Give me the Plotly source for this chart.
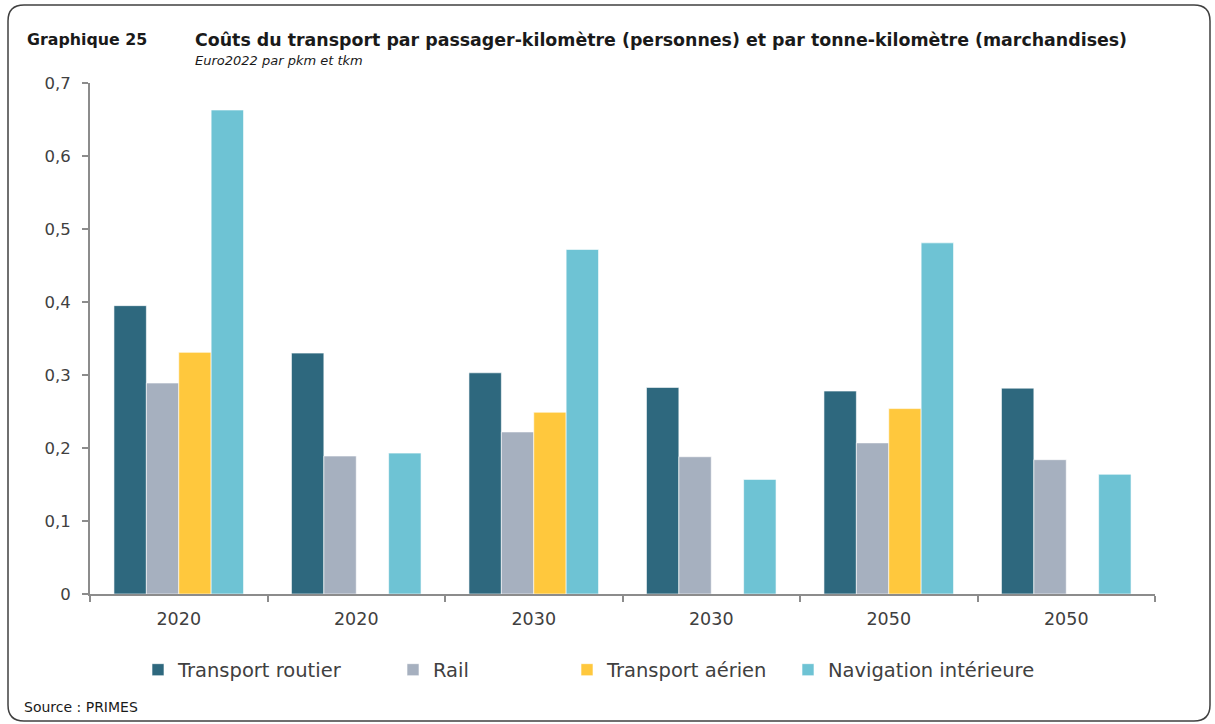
import plotly.graph_objects as go

years = ["2020", "2020", "2030", "2030", "2050", "2050"]
series_names = ["Transport routier", "Rail", "Transport aérien", "Navigation intérieure"]
routier = [0.395, 0.330, 0.303, 0.283, 0.278, 0.282]
rail = [0.289, 0.189, 0.222, 0.188, 0.207, 0.184]
aerien = [0.331, None, 0.249, None, 0.254, None]
navigation = [0.663, 0.193, 0.472, 0.157, 0.481, 0.164]
yticks = [0, 0.1, 0.2, 0.3, 0.4, 0.5, 0.6, 0.7]

colors = ["#2E687E", "#A6B0BF", "#FFC83D", "#6EC3D4"]
values = [routier, rail, aerien, navigation]

W, H = 1215, 724
L, R, T, B = 90, 1155, 83, 594

def px(x):
    return (x - L) / (R - L)

def py(y):
    return (B - y) / (B - T)

FONT = "DejaVu Sans"
TXT = "#404040"
AX = "#8C8C8C"

xpos = list(range(len(years)))

fig = go.Figure()
legend_names = ["legend", "legend2", "legend3", "legend4"]
for name, vals, col, lg in zip(series_names, values, colors, legend_names):
    fig.add_trace(go.Bar(
        x=xpos, y=vals, name=name, marker=dict(color=col, line=dict(color="rgba(255,255,255,0.6)", width=1)),
        legend=lg, showlegend=True,
    ))

legend_text_x = [178, 433, 607, 828]
leg_common = dict(orientation="h", yanchor="middle", xanchor="left",
                  font=dict(family=FONT, size=19.5, color=TXT), bgcolor="rgba(0,0,0,0)",
                  itemwidth=30, borderwidth=0)
layout_legends = {}
for lg, tx in zip(legend_names, legend_text_x):
    layout_legends[lg] = dict(x=px(tx - 40), y=py(670), **leg_common)

fig.update_layout(
    width=W, height=H,
    margin=dict(l=L, r=W - R, t=T, b=H - B),
    paper_bgcolor="white", plot_bgcolor="white",
    barmode="group", bargap=0.27, bargroupgap=0,
    separators=", ",
    font=dict(family=FONT, color=TXT),
    xaxis=dict(range=[-0.5, 5.5], tickmode="array", tickvals=xpos, ticktext=years,
               showline=True, linecolor=AX, linewidth=2, ticks="outside", ticklen=0,
               tickcolor="rgba(0,0,0,0)", showgrid=False, zeroline=False,
               tickfont=dict(family=FONT, size=17.5, color=TXT), ticklabelstandoff=8,
               minor=dict(tickmode="array", tickvals=[i - 0.5 for i in range(len(years) + 1)],
                          ticks="outside", ticklen=6, tickwidth=2, tickcolor=AX, showgrid=False)),
    yaxis=dict(range=[0, 0.7], tickmode="array", tickvals=yticks,
               ticktext=[("0" if v == 0 else f"{v:.1f}".replace(".", ",")) for v in yticks],
               showline=True, linecolor=AX, linewidth=2, ticks="outside", ticklen=6,
               tickwidth=2, tickcolor=AX, showgrid=False, zeroline=False,
               tickfont=dict(family=FONT, size=16.5, color=TXT), ticklabelstandoff=8),
    **layout_legends,
)

# Title block
fig.add_annotation(text="<b>Graphique 25</b>", x=px(25), y=py(40), xref="paper", yref="paper",
                   xanchor="left", yanchor="middle", showarrow=False,
                   font=dict(family=FONT, size=15.8, color="#1a1a1a"))
fig.add_annotation(text="<b>Coûts du transport par passager-kilomètre (personnes) et par tonne-kilomètre (marchandises)</b>",
                   x=px(193), y=py(40), xref="paper", yref="paper",
                   xanchor="left", yanchor="middle", showarrow=False,
                   font=dict(family=FONT, size=17.4, color="#1a1a1a"))
fig.add_annotation(text="<i>Euro2022 par pkm et tkm</i>", x=px(193), y=py(61), xref="paper", yref="paper",
                   xanchor="left", yanchor="middle", showarrow=False,
                   font=dict(family=FONT, size=13, color="#1a1a1a"))
fig.add_annotation(text="Source : PRIMES", x=px(22), y=py(707), xref="paper", yref="paper",
                   xanchor="left", yanchor="middle", showarrow=False,
                   font=dict(family=FONT, size=14, color="#1a1a1a"))

# Rounded frame
x0, x1, y0, y1, r = 8, 1210, 5, 721, 16
def P(x, y):
    return f"{px(x)},{py(y)}"
path = (f"M {P(x0 + r, y0)} L {P(x1 - r, y0)} Q {P(x1, y0)} {P(x1, y0 + r)} "
        f"L {P(x1, y1 - r)} Q {P(x1, y1)} {P(x1 - r, y1)} "
        f"L {P(x0 + r, y1)} Q {P(x0, y1)} {P(x0, y1 - r)} "
        f"L {P(x0, y0 + r)} Q {P(x0, y0)} {P(x0 + r, y0)} Z")
fig.add_shape(type="path", path=path, xref="paper", yref="paper",
              line=dict(color="#404040", width=1.5), fillcolor="rgba(0,0,0,0)", layer="below")

fig.write_html("out.html", config={"displayModeBar": False},
               post_script="document.body.style.margin='0';document.body.style.overflow='hidden';")
